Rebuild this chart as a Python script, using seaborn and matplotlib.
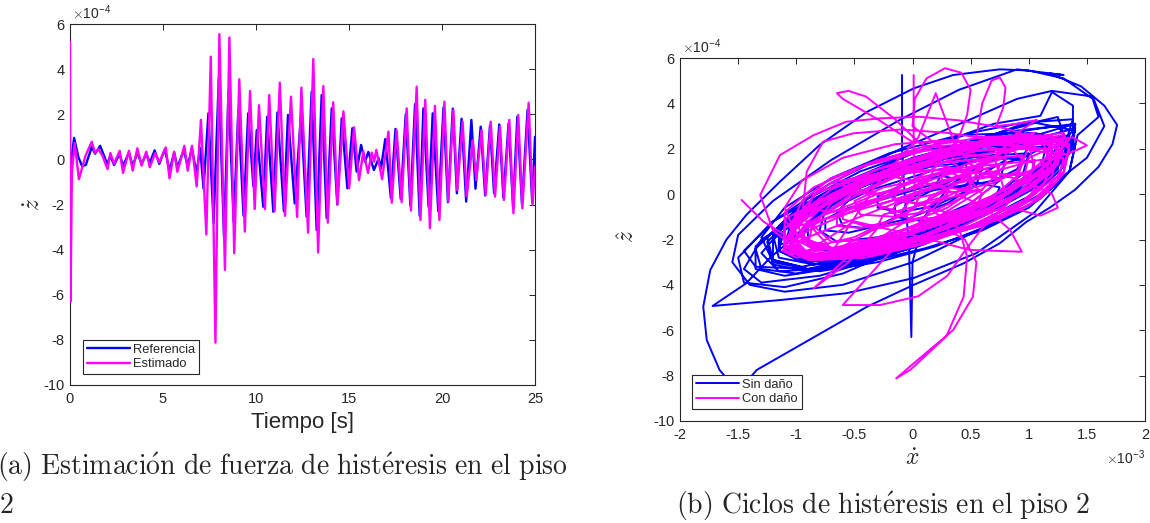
import matplotlib
matplotlib.use("Agg")
import matplotlib.pyplot as plt
import pandas as pd
import seaborn as sns
from matplotlib.ticker import FuncFormatter, FixedLocator

# ---------------- (a) time histories, z-dot in units of 1e-4 ----------------
ref_t = [0.0, 0.22, 0.45, 0.65, 0.85, 1.17, 1.35, 1.62, 2.0, 2.17,
         2.37, 2.67, 2.85, 3.17, 3.37, 3.62, 3.85, 4.1, 4.29, 4.55,
         4.8, 5.1, 5.35, 5.6, 5.77, 6.12, 6.33, 6.55, 6.8, 7.0,
         7.18, 7.44, 7.72, 8.0, 8.28, 8.52, 8.8, 9.05, 9.33, 9.58,
         9.86, 10.04, 10.39, 10.6, 10.93, 11.15, 11.5, 11.72, 12.08, 12.42,
         12.72, 12.99, 13.26, 13.53, 13.8, 14.07, 14.37, 14.61, 14.91, 15.18,
         15.41, 15.65, 15.86, 16.04, 16.34, 16.6, 16.72, 16.95, 17.25, 17.5,
         17.78, 18.05, 18.3, 18.55, 18.8, 19.0, 19.28, 19.5, 19.8, 20.08,
         20.32, 20.58, 20.8, 21.05, 21.3, 21.58, 21.8, 22.08, 22.32, 22.58,
         22.8, 23.08, 23.3, 23.58, 23.82, 24.05, 24.3, 24.6, 24.85, 25.0]
ref_z = [-0.5, 0.95, 0.1, -0.3, -0.25, 0.55, 0.25, 0.6, -0.2, 0.15,
         -0.25, 0.25, -0.3, 0.3, -0.3, 0.3, -0.2, 0.25, -0.15, 0.4,
         -0.2, 0.45, -0.5, 0.3, -0.35, 0.4, -0.3, 0.5, -0.6, 0.5,
         -1.3, 2.04, -2.83, 3.59, -3.43, 3.0, -2.76, 2.19, -2.5, 2.04,
         -1.2, 1.3, -2.1, 1.89, -2.32, 2.08, -2.3, 1.97, -1.95, 1.97,
         -2.54, 3.0, -3.13, 2.85, -2.6, 2.26, -2.0, 1.82, -1.28, 1.38,
         -0.54, 0.64, -0.1, 0.33, -0.47, 0.05, -0.4, 0.9, -1.7, 1.35,
         -1.75, 2.0, -2.05, 2.45, -2.5, 2.26, -2.1, 2.04, -2.3, 2.3,
         -1.9, 2.25, -1.5, 1.8, -1.87, 1.75, -1.3, 1.45, -1.6, 1.5,
         -1.5, 1.55, -1.7, 1.6, -2.1, 1.9, -2.0, 2.2, -1.9, 1.0]

est_t = [0.0, 0.03, 0.1, 0.25, 0.48, 0.83, 1.17, 1.35, 1.52, 1.75,
         2.02, 2.17, 2.37, 2.67, 2.85, 3.17, 3.37, 3.62, 3.85, 4.1,
         4.29, 4.58, 4.8, 5.15, 5.35, 5.6, 5.77, 6.15, 6.33, 6.56,
         6.81, 7.04, 7.33, 7.57, 7.82, 8.03, 8.33, 8.57, 8.83, 9.1,
         9.4, 9.68, 9.93, 10.16, 10.48, 10.71, 11.0, 11.28, 11.56, 11.88,
         12.21, 12.44, 12.8, 13.08, 13.34, 13.62, 13.86, 14.15, 14.38, 14.7,
         15.01, 15.27, 15.54, 15.77, 16.02, 16.22, 16.35, 16.47, 16.78, 17.12,
         17.3, 17.56, 17.83, 18.1, 18.33, 18.64, 18.84, 19.1, 19.35, 19.62,
         19.86, 20.13, 20.34, 20.61, 20.82, 21.11, 21.33, 21.66, 21.84, 22.13,
         22.35, 22.62, 22.85, 23.12, 23.33, 23.62, 23.84, 24.1, 24.32, 24.66,
         24.87, 25.0]
est_z = [5.2, -6.3, -0.6, 0.72, -0.88, 0.15, 0.78, 0.28, 0.46, 0.16,
         -0.43, 0.28, -0.2, 0.38, -0.6, 0.38, -0.5, 0.49, -0.28, 0.34,
         -0.35, 0.28, -0.13, 0.53, -0.84, 0.34, -0.55, 0.6, -0.5, 0.6,
         -1.2, 1.75, -3.33, 4.55, -8.12, 5.55, -4.9, 5.4, -4.16, 3.55,
         -3.2, 3.03, -2.2, 2.4, -2.2, 2.85, -2.3, 3.4, -2.5, 2.78,
         -2.55, 3.18, -3.25, 4.45, -4.13, 3.25, -2.8, 2.53, -2.0, 2.13,
         -1.28, 1.42, -0.92, 0.36, -0.6, 0.3, -0.1, 0.42, -0.88, 1.23,
         -1.92, 1.3, -1.9, 2.26, -2.27, 3.22, -2.69, 2.64, -3.05, 2.37,
         -2.69, 2.56, -1.87, 2.19, -1.36, 1.67, -1.65, 0.86, -0.91, 1.3,
         -1.58, 1.67, -1.65, 1.45, -1.8, 1.75, -2.39, 1.97, -2.17, 2.51,
         -2.02, -0.32]

# -------- (b) hysteresis cycles: x-dot in 1e-3, z-hat in 1e-4 (one loop per row) --------
sin_dano_x = [
    -0.09, -0.09, -0.07, -0.03, -0.01, 0.0, 0.1, 0.35,
    0.6, 0.55, 0.3, -0.05, -0.4, -0.6, -0.65, -0.5, -0.2, 0.15, 0.45,
    0.5, 0.45, 0.2, -0.1, -0.3, -0.3, -0.05, 0.25,
    0.75, 0.7, 0.45, 0.1, -0.15, -0.15, 0.1, 0.45,
    0.8, 0.75, 0.5, 0.1, -0.3, -0.65, -0.8, -0.75, -0.45, -0.05, 0.35, 0.65,
    1.0, 0.95, 0.7, 0.3, -0.15, -0.55, -0.85, -0.95, -0.85, -0.5, -0.05, 0.4, 0.8,
    1.15, 1.1, 0.85, 0.45, 0.0, -0.45, -0.85, -1.05, -1.0, -0.7, -0.25, 0.25, 0.7, 1.0,
    -0.05, -0.1, -0.3, -0.55, -0.75, -0.75, -0.55, -0.3,
    0.95, 0.9, 0.7, 0.4, 0.2, 0.25, 0.45, 0.7,
    1.05, 1.0, 0.7, 0.25, -0.25, -0.7, -1.0, -1.05, -0.8, -0.35, 0.15, 0.6, 0.95,
    1.25, 1.2, 0.95, 0.5, 0.0, -0.5, -0.9, -1.1, -1.05, -0.75, -0.3, 0.2, 0.7, 1.05,
    1.2, 1.15, 0.85, 0.4, -0.1, -0.6, -0.95, -1.15, -1.05, -0.7, -0.2, 0.35, 0.85,
    1.35, 1.3, 1.05, 0.6, 0.1, -0.4, -0.85, -1.15, -1.2, -0.95, -0.5, 0.0, 0.5, 1.0,
    1.3, 1.25, 1.0, 0.55, 0.05, -0.45, -0.9, -1.2, -1.25, -1.0, -0.55, -0.05, 0.45, 0.95,
    1.4, 1.35, 1.1, 0.65, 0.15, -0.35, -0.8, -1.15, -1.3, -1.1, -0.7, -0.2, 0.35, 0.9, 1.25,
    1.35, 1.3, 1.05, 0.6, 0.1, -0.4, -0.9, -1.2, -1.25, -1.0, -0.55, -0.05, 0.5, 1.0,
    1.4, 1.35, 1.1, 0.6, 0.0, -0.6, -1.1, -1.35, -1.35, -1.05, -0.6, -0.05, 0.5, 1.0,
    1.4, 1.3, 1.0, 0.55, 0.0, -0.55, -1.0, -1.3, -1.35, -1.1, -0.6, 0.0, 0.6, 1.1,
    1.4, 1.38, 1.0, 0.4, -0.2, -0.8, -1.3, -1.45, -1.3, -0.8, -0.1, 0.6, 1.1,
    1.38, 1.3, 0.9, 0.3, -0.3, -0.9, -1.35, -1.45, -1.2, -0.6, 0.1, 0.7, 1.1,
    1.2, 1.38, 1.38, 1.1, 0.5, -0.1, -0.6, -1.1, -1.45, -1.5, -1.2, -0.7, -0.1, 0.5, 0.9, 1.2,
    1.55, 1.65, 1.5, 1.1, 0.6, 0.0, -0.6, -1.1, -1.4, -1.55, -1.5, -1.2, -0.7, -0.1, 0.4, 0.9, 1.3,
    1.18, 1.45, 1.65, 1.76, 1.72, 1.6, 1.4, 1.18, 0.98, 0.75, 0.44, 0.01, -0.39, -0.74,
    -1.34, -1.5, -1.66, -1.77, -1.8, -1.74, -1.6, -1.43, -1.14, -0.8, -0.39, 0.01, 0.35, 0.75,
    1.0, 1.3, 1.55, 1.6,
    1.42, 1.35, 1.05, 0.55, 0.01, -0.57, -1.14, -1.72, -1.43, -1.23, -1.08, -0.8, -0.3, 0.3, 0.9, 1.25,
    1.3, 1.25, 0.95, 0.5, -0.05, -0.55, -0.95, -1.2, -1.2, -0.9, -0.45, 0.1, 0.65, 1.05,
    1.4, 1.35, 1.1, 0.7, 0.2, -0.3, -0.8, -1.2, -1.3, -1.1, -0.7, -0.2, 0.4, 0.95,
    1.3, 1.25, 1.0, 0.6, 0.1, -0.4, -0.85, -1.15, -1.15, -0.9, -0.45, 0.05, 0.6, 1.05,
    1.2, 1.15, 0.9, 0.45, -0.05, -0.55, -0.95, -1.15, -1.1, -0.8, -0.35, 0.15, 0.65, 1.0,
    0.95, 0.9, 0.6, 0.2, -0.25, -0.65, -0.9, -0.9, -0.6, -0.2, 0.3, 0.7,
]
sin_dano_z = [
    5.25, 2.0, 0.2, -2.3, -6.3, -3.0, -1.0, 0.5,
    1.2, 0.4, -0.4, -1.1, -1.5, -1.4, -0.8, 0.0, 0.7, 1.2, 1.4,
    0.7, 0.1, -0.5, -0.8, -0.6, -0.1, 0.5, 0.8,
    0.3, -0.3, -0.9, -1.2, -1.0, -0.5, 0.1, 0.4,
    1.5, 0.6, -0.4, -1.3, -1.9, -2.1, -1.6, -0.7, 0.3, 1.0, 1.5, 1.7,
    1.8, 0.9, -0.1, -1.1, -1.9, -2.4, -2.5, -1.9, -0.9, 0.2, 1.1, 1.7, 2.0,
    2.1, 1.1, 0.0, -1.1, -2.0, -2.6, -2.8, -2.2, -1.2, -0.1, 0.9, 1.7, 2.2, 2.3,
    -0.4, -0.9, -1.4, -1.7, -1.6, -1.1, -0.6, -0.3,
    1.6, 1.1, 0.6, 0.3, 0.4, 0.9, 1.4, 1.7,
    1.4, 0.4, -0.6, -1.6, -2.4, -2.9, -2.8, -2.0, -0.9, 0.2, 1.0, 1.5, 1.6,
    2.4, 1.3, 0.1, -1.1, -2.1, -2.8, -3.0, -2.4, -1.3, -0.2, 0.9, 1.8, 2.4, 2.6,
    1.9, 0.9, -0.2, -1.2, -2.0, -2.6, -2.7, -2.1, -1.1, 0.1, 1.1, 1.8, 2.1,
    2.6, 1.5, 0.3, -0.9, -1.9, -2.7, -3.1, -2.8, -1.8, -0.6, 0.6, 1.6, 2.3, 2.7,
    2.2, 1.1, -0.1, -1.3, -2.3, -3.0, -3.3, -2.9, -1.9, -0.7, 0.5, 1.4, 2.0, 2.3,
    2.9, 1.8, 0.5, -0.8, -1.9, -2.8, -3.3, -3.4, -2.6, -1.4, -0.1, 1.1, 2.1, 2.8, 3.0,
    2.3, 1.2, 0.0, -1.2, -2.2, -3.0, -3.4, -3.1, -2.1, -0.9, 0.3, 1.3, 2.1, 2.5,
    3.1, 1.8, 0.4, -1.0, -2.2, -3.2, -3.6, -3.3, -2.3, -1.0, 0.4, 1.7, 2.7, 3.2,
    2.8, 1.8, 0.6, -0.7, -2.0, -3.0, -3.5, -3.3, -2.4, -1.2, 0.2, 1.5, 2.5, 2.9,
    3.1, 2.0, 0.3, -1.4, -2.7, -3.6, -3.9, -3.3, -2.0, -0.5, 1.2, 2.5, 3.2,
    3.3, 2.0, 0.4, -1.3, -2.6, -3.3, -3.2, -2.5, -1.2, 0.5, 2.0, 3.1, 3.45,
    4.5, 3.9, 2.8, 1.2, -0.8, -2.4, -3.5, -4.1, -3.9, -2.8, -1.2, 0.5, 2.0, 3.3, 4.2, 4.55,
    4.3, 3.0, 1.6, 0.0, -1.5, -3.0, -4.0, -4.3, -4.0, -3.0, -1.8, -0.3, 1.5, 3.3, 4.6, 5.5, 5.25,
    5.32, 4.75, 3.9, 3.05, 2.2, 1.2, 0.2, -0.6, -1.22, -2.17, -3.05, -4.0, -4.96, -5.99,
    -7.75, -8.7, -7.75, -6.43, -4.96, -3.35, -2.0, -0.92, 0.55, 2.16, 3.63, 4.66, 5.25, 5.5,
    5.45, 5.1, 4.2, 3.4,
    2.6, 1.0, -0.8, -2.6, -3.7, -4.37, -4.67, -4.93, -3.93, -2.83, -2.17, -1.0, 0.5, 1.9, 3.0, 3.4,
    2.6, 1.5, 0.3, -0.9, -2.0, -2.8, -3.2, -2.9, -2.0, -0.8, 0.4, 1.5, 2.3, 2.7,
    2.2, 1.0, -0.2, -1.3, -2.3, -3.0, -3.4, -3.0, -1.9, -0.6, 0.7, 1.8, 2.6, 2.7,
    1.6, 0.5, -0.6, -1.6, -2.4, -3.0, -3.1, -2.5, -1.4, -0.2, 1.0, 1.9, 2.3, 2.1,
    2.0, 1.0, -0.1, -1.2, -2.2, -2.8, -3.0, -2.5, -1.5, -0.3, 0.8, 1.6, 2.1, 2.2,
    1.6, 0.7, -0.4, -1.4, -2.2, -2.5, -2.1, -1.2, -0.1, 0.9, 1.6, 1.9,
]

con_dano_x = [
    0.01, 0.01, 0.02, -0.1, -0.3,
    0.5, 0.5, 0.3, 0.0, -0.35, -0.6, -0.6, -0.4, -0.05, 0.3,
    0.55, 0.5, 0.3, 0.05, -0.15, -0.15, 0.05, 0.3,
    0.5, 0.45, 0.2, -0.15, -0.45, -0.5, -0.25, 0.1,
    0.05, 0.0, -0.2, -0.45, -0.65, -0.65, -0.45, -0.2,
    0.75, 0.7, 0.45, 0.05, -0.35, -0.7, -0.85, -0.7, -0.35, 0.1, 0.5,
    0.95, 0.9, 0.65, 0.25, -0.2, -0.6, -0.9, -0.95, -0.75, -0.35, 0.1, 0.55, 0.85,
    0.95, 0.9, 0.7, 0.45, 0.25, 0.25, 0.45, 0.7,
    0.8, 0.7, 0.4, 0.0, -0.2, -0.1, 0.25, 0.6,
    -0.25, -0.3, -0.5, -0.75, -0.95, -0.95, -0.75, -0.5,
    1.05, 1.0, 0.8, 0.4, -0.1, -0.55, -0.9, -1.05, -0.9, -0.55, -0.1, 0.4, 0.85,
    1.2, 1.15, 0.9, 0.5, 0.0, -0.5, -0.9, -1.1, -1.0, -0.65, -0.2, 0.3, 0.8, 1.1,
    1.25, 1.2, 1.0, 0.75, 0.55, 0.55, 0.75, 1.0,
    0.9, 0.85, 0.6, 0.3, 0.1, 0.15, 0.4, 0.7,
    0.2, 0.15, -0.05, -0.35, -0.55, -0.55, -0.3, -0.05,
    -0.1, -0.15, -0.4, -0.7, -0.9, -0.85, -0.6, -0.3,
    1.3, 1.25, 1.0, 0.6, 0.1, -0.4, -0.85, -1.1, -1.1, -0.85, -0.45, 0.1, 0.6, 1.0,
    1.0, 1.05, 0.85, 0.5, 0.05, -0.4, -0.8, -1.05, -1.0, -0.7, -0.3, 0.15, 0.6, 0.9,
    1.3, 1.25, 1.0, 0.6, 0.1, -0.4, -0.85, -1.1, -1.1, -0.8, -0.35, 0.15, 0.7, 1.1,
    1.2, 1.1, 0.85, 0.45, -0.05, -0.5, -0.9, -1.05, -0.95, -0.7, -0.3, 0.2, 0.7, 1.05,
    0.8, 0.8, 0.6, 0.25, -0.2, -0.65, -0.95, -1.05, -0.85, -0.45, 0.0, 0.45, 0.75,
    1.25, 1.2, 0.95, 0.55, 0.05, -0.45, -0.85, -1.05, -1.0, -0.7, -0.25, 0.3, 0.8, 1.15,
    1.35, 1.3, 1.05, 0.6, 0.1, -0.4, -0.8, -1.05, -1.0, -0.7, -0.2, 0.35, 0.85, 1.2,
    1.35, 1.3, 1.1, 0.75, 0.3, -0.2, -0.65, -0.95, -1.0, -0.8, -0.4, 0.1, 0.6, 1.05,
    1.3, 1.2, 0.9, 0.45, -0.1, -0.6, -0.95, -1.1, -0.95, -0.55, -0.05, 0.5, 1.0, 1.3,
    1.35, 1.25, 0.95, 0.5, 0.0, -0.5, -0.9, -1.1, -1.0, -0.65, -0.15, 0.4, 0.9, 1.25,
    0.0, -0.3, -0.6, -0.65, -0.55, -0.4, -0.15, 0.05, 0.4, 0.6, 0.5, 0.0, -0.5, -0.9, -1.05, -0.8, -0.3, 0.3,
    1.1, 1.0, 0.7, 0.25, -0.25, -0.7, -1.0, -1.1, -0.95, -0.6, -0.15, 0.35, 0.8,
    1.3, 1.25, 1.0, 0.6, 0.1, -0.4, -0.8, -1.1, -1.1, -0.85, -0.4, 0.1, 0.65, 1.05,
    0.8, 1.1, 1.38, 1.5, 1.35, 1.1, 1.2, 1.0, 0.6, 0.1, -0.5, -1.0, -1.12, -0.9, -0.4, 0.2, 0.8,
    0.3, 0.0, 0.02, 0.12, 0.28, 0.42, 0.5, 0.47, 0.4, 0.2, -0.2, -0.7, -1.05, -1.1, -0.8, -0.2, 0.4,
    1.2, 1.15, 0.9, 0.5, 0.0, -0.5, -0.9, -1.05, -0.9, -0.5, 0.0, 0.55, 1.0,
    0.55, 0.6, 0.68, 0.75, 0.8, 0.78, 0.72, 0.9, 1.07, 0.9, 0.7, 0.3, -0.2, -0.6, -0.85, -0.95,
    -1.2, -1.31, -1.14, -0.85, -0.57, -0.28, 0.06, 0.4, 0.8, 1.1, 1.3, 1.2, 0.9, 0.4, -0.2, -0.7,
    -0.95, -0.91, -0.77, -0.51, -0.1, 0.3, 0.7, 1.0, 1.25, 1.2, 0.9, 0.4, -0.2, -0.7,
    -0.3, 0.05, 0.2, 0.35, 0.5, 0.8, 1.0,
    1.2, 1.25, 1.1, 0.85, 0.5, 0.0, -0.5, -0.9,
    -0.5, 0.0, 0.49, 0.94, 0.84, 0.6, 0.2, -0.3, -0.7,
    0.1, 0.4, 0.47, 0.44, 0.29, -0.02, -0.14, 0.01, 0.35, 0.52, 0.55, 0.45, 0.1,
    -0.3, -0.55, -0.85, -0.68, -0.5, -0.3, 0.0,
    0.3, -0.2, -0.6, -0.28, 0.05, 0.3, 0.45, 0.6, 0.9, 1.2, 1.35,
    1.0, 0.95, 0.7, 0.3, -0.2, -0.6, -0.9, -0.85, -0.55, -0.1, 0.4, 0.8,
    0.4, -0.2, -0.7, -1.0, -1.28, -1.47,
]
con_dano_z = [
    5.25, 2.0, 0.0, -0.8, -0.5,
    0.9, 0.1, -0.6, -1.2, -1.5, -1.1, -0.3, 0.5, 1.0, 1.1,
    0.9, 0.4, -0.1, -0.4, -0.3, 0.2, 0.7, 1.05,
    0.5, -0.1, -0.7, -1.0, -0.9, -0.3, 0.3, 0.65,
    -0.2, -0.7, -1.2, -1.5, -1.4, -0.9, -0.4, -0.05,
    1.3, 0.4, -0.6, -1.4, -2.0, -2.1, -1.4, -0.4, 0.6, 1.3, 1.5,
    1.7, 0.8, -0.3, -1.3, -2.1, -2.5, -2.3, -1.5, -0.4, 0.6, 1.4, 1.9, 2.0,
    1.5, 1.0, 0.5, 0.2, 0.3, 0.8, 1.3, 1.65,
    0.0, -0.6, -1.0, -1.1, -0.8, -0.3, 0.05, 0.2,
    -0.9, -1.4, -1.9, -2.2, -2.1, -1.6, -1.1, -0.75,
    1.5, 0.5, -0.5, -1.5, -2.3, -2.7, -2.6, -1.8, -0.7, 0.4, 1.3, 1.9, 2.0,
    2.0, 1.0, -0.1, -1.1, -2.0, -2.6, -2.8, -2.2, -1.1, 0.1, 1.1, 1.9, 2.3, 2.3,
    2.0, 1.5, 1.0, 0.7, 0.8, 1.3, 1.8, 2.15,
    0.7, 0.1, -0.5, -0.8, -0.6, -0.1, 0.5, 0.8,
    1.3, 0.7, 0.2, 0.0, 0.1, 0.6, 1.1, 1.4,
    0.6, 0.0, -0.5, -0.8, -0.6, 0.0, 0.5, 0.8,
    1.6, 0.6, -0.5, -1.4, -2.0, -2.4, -2.4, -1.8, -0.8, 0.3, 1.2, 1.9, 2.2, 2.1,
    2.2, 1.1, 0.1, -0.9, -1.9, -2.5, -2.7, -2.3, -1.4, -0.3, 0.8, 1.7, 2.3, 2.5,
    2.3, 1.3, 0.2, -0.9, -1.9, -2.6, -2.9, -2.5, -1.5, -0.4, 0.8, 1.8, 2.4, 2.6,
    1.2, 0.2, -0.8, -1.6, -2.2, -2.5, -2.2, -1.4, -0.3, 0.7, 1.5, 2.1, 2.3, 1.9,
    2.3, 1.3, 0.2, -0.9, -1.8, -2.4, -2.5, -1.8, -0.7, 0.5, 1.5, 2.2, 2.5,
    1.8, 0.8, -0.3, -1.3, -2.2, -2.7, -2.8, -2.1, -1.0, 0.2, 1.2, 2.0, 2.3, 2.2,
    2.2, 1.0, -0.2, -1.3, -2.2, -2.8, -2.9, -2.3, -1.2, 0.0, 1.1, 2.0, 2.5, 2.5,
    2.0, 0.9, -0.2, -1.1, -1.8, -2.3, -2.5, -2.0, -1.0, 0.2, 1.3, 2.1, 2.5, 2.4,
    2.6, 1.5, 0.3, -0.9, -1.9, -2.6, -2.8, -2.2, -1.1, 0.1, 1.2, 2.0, 2.5, 2.7,
    1.9, 0.8, -0.3, -1.4, -2.3, -2.8, -2.9, -2.3, -1.3, -0.1, 1.0, 1.9, 2.4, 2.3,
    2.3, 3.3, 4.2, 4.45, 4.55, 4.3, 3.3, 2.3, 1.2, 0.0, -1.0, -2.0, -2.7, -2.7, -2.1, -1.0, 0.0, 1.0,
    0.8, -0.2, -1.1, -1.8, -2.3, -2.4, -1.8, -0.6, 0.6, 1.6, 2.2, 2.4, 1.9,
    2.5, 1.4, 0.3, -0.8, -1.8, -2.5, -2.8, -2.5, -1.5, -0.4, 0.7, 1.7, 2.4, 2.7,
    1.8, 2.3, 2.5, 2.15, 1.8, 1.5, 1.0, 0.2, -0.8, -1.8, -2.5, -2.8, -2.5, -1.6, -0.5, 0.7, 1.6,
    1.8, 3.0, 4.2, 5.1, 5.55, 5.35, 4.6, 3.5, 2.5, 1.2, 0.0, -1.0, -1.5, -1.1, -0.3, 0.8, 1.9,
    2.6, 1.6, 0.5, -0.6, -1.6, -2.3, -2.7, -2.3, -1.3, -0.1, 1.1, 2.1, 2.6,
    2.5, 4.0, 5.0, 5.15, 4.7, 3.8, 3.0, 3.1, 3.27, 2.7, 1.6, 0.2, -1.2, -2.3, -2.9, -2.6,
    -1.6, -0.04, 1.72, 2.6, 3.19, 3.34, 3.41, 3.25, 2.9, 2.4, 1.8, 1.2, 0.4, -0.7, -1.8, -2.4,
    -1.0, 0.99, 2.31, 2.68, 2.85, 2.7, 2.4, 2.0, 1.7, 1.2, 0.3, -0.9, -2.0, -2.6,
    0.5, 2.5, 4.45, 2.4, 1.3, 0.8, 0.5,
    0.0, -0.6, -0.95, -0.6, -0.9, -1.7, -2.3, -2.5,
    -1.2, -1.8, -2.46, -2.54, -1.58, -0.5, 0.4, 0.9, 0.5,
    -0.5, -1.5, -2.76, -4.52, -6.28, -7.75, -8.12, -7.46, -5.99, -4.52, -3.0, -2.0, -1.0,
    -1.5, -3.0, -4.15, -3.35, -2.5, -2.0, -1.0,
    0.0, -2.6, -4.89, -4.89, -4.5, -3.6, -2.5, -1.5, 0.0, 1.5, 2.4,
    1.6, 0.6, -0.5, -1.5, -2.3, -2.6, -2.2, -1.2, -0.1, 0.9, 1.6, 1.9,
    0.8, -0.5, -1.5, -2.1, -1.22, -0.26,
]

series_a = ["Referencia", "Estimado"]
series_b = ["Sin daño", "Con daño"]
line_colors = ["#0000FF", "#FF00FF"]
y_ticks = [-10, -8, -6, -4, -2, 0, 2, 4, 6]
x_ticks_a = [0, 5, 10, 15, 20, 25]
x_ticks_b = [-2, -1.5, -1, -0.5, 0, 0.5, 1, 1.5, 2]
caption_a1 = r"$\mathrm{(a)\ Estimaci\acute{o}n\ de\ fuerza\ de\ hist\acute{e}resis\ en\ el\ piso}$"
caption_a2 = r"$\mathrm{2}$"
caption_b = r"$\mathrm{(b)\ Ciclos\ de\ hist\acute{e}resis\ en\ el\ piso\ 2}$"

sns.set_style("white")
plt.rcParams["font.family"] = ["Liberation Sans", "DejaVu Sans"]
plt.rcParams["mathtext.fontset"] = "cm"
plt.rcParams["axes.unicode_minus"] = False

INK = "#262626"

df_a = pd.concat([
    pd.DataFrame({"t": ref_t, "z": ref_z, "serie": series_a[0]}),
    pd.DataFrame({"t": est_t, "z": est_z, "serie": series_a[1]}),
], ignore_index=True)
df_b = pd.concat([
    pd.DataFrame({"x": sin_dano_x, "z": sin_dano_z, "serie": series_b[0]}),
    pd.DataFrame({"x": con_dano_x, "z": con_dano_z, "serie": series_b[1]}),
], ignore_index=True)

fig = plt.figure(figsize=(11.5, 5.23), dpi=100)
W, H = 1150, 523
ax1 = fig.add_axes([70 / W, 1 - 385 / H, 465 / W, 361 / H])
ax2 = fig.add_axes([680 / W, 1 - 421 / H, 465 / W, 363 / H])

sns.lineplot(data=df_a, x="t", y="z", hue="serie", hue_order=series_a,
             palette=line_colors, estimator=None, sort=True, linewidth=1.7,
             solid_joinstyle="round", zorder=3, ax=ax1)
sns.lineplot(data=df_b, x="x", y="z", hue="serie", hue_order=series_b,
             palette=line_colors, estimator=None, sort=False, linewidth=1.4,
             solid_joinstyle="round", ax=ax2)

fmt = FuncFormatter(lambda v, p: f"{v:g}")
for ax, xt, xlim in ((ax1, x_ticks_a, (0, 25)), (ax2, x_ticks_b, (-2, 2))):
    ax.set_xlim(*xlim)
    ax.set_ylim(-10, 6)
    ax.xaxis.set_major_locator(FixedLocator(xt))
    ax.yaxis.set_major_locator(FixedLocator(y_ticks))
    ax.xaxis.set_major_formatter(fmt)
    ax.yaxis.set_major_formatter(fmt)
    ax.tick_params(direction="in", top=True, right=True, length=4, width=0.7,
                   colors=INK, labelsize=10.5)
    ax.tick_params(axis="x", pad=5)
    ax.tick_params(axis="y", pad=4)
    for s in ax.spines.values():
        s.set_color(INK)
        s.set_linewidth(0.8)
    ax.text(0.004, 1.006, r"$\times\mathregular{10}^{\mathregular{-4}}$",
            transform=ax.transAxes, ha="left", va="bottom", fontsize=10, color=INK)

    old = ax.get_legend()
    handles = old.legend_handles
    labels = [t.get_text() for t in old.get_texts()]
    old.remove()
    anchor = (0.028, 0.030) if ax is ax1 else (0.026, 0.033)
    lw = 1.7 if ax is ax1 else 1.4
    leg = ax.legend(handles, labels, loc="lower left", bbox_to_anchor=anchor,
                    borderaxespad=0, frameon=True, fancybox=False, framealpha=1,
                    edgecolor=INK, fontsize=9.3, handlelength=3.3,
                    handletextpad=0.3, borderpad=0.3, labelspacing=0.2)
    leg.set_zorder(5)
    leg.get_frame().set_linewidth(0.8)
    for h in leg.get_lines():
        h.set_linewidth(lw)

ax1.set_xlabel("Tiempo [s]", fontsize=16, color=INK)
ax1.xaxis.set_label_coords(0.5, -0.075)
ax1.set_ylabel(r"$\dot{z}$", fontsize=17, color=INK)
ax1.yaxis.set_label_coords(-0.054, 0.5)

ax2.set_xlabel(r"$\dot{x}$", fontsize=17, color=INK)
ax2.xaxis.set_label_coords(0.5, -0.074)
ax2.set_ylabel(r"$\hat{z}$", fontsize=17, color=INK)
ax2.yaxis.set_label_coords(-0.088, 0.507)
ax2.text(1.0, -0.075, r"$\times\mathregular{10}^{\mathregular{-3}}$",
         transform=ax2.transAxes, ha="right", va="top", fontsize=10, color=INK)

fig.text(-3 / W, 1 - 467 / H, caption_a1, fontsize=20, ha="left", va="center")
fig.text(-1 / W, 1 - 506 / H, caption_a2, fontsize=20, ha="left", va="center")
fig.text(883 / W, 1 - 506 / H, caption_b, fontsize=20, ha="center", va="center")

fig.savefig("out.png", dpi=100)
